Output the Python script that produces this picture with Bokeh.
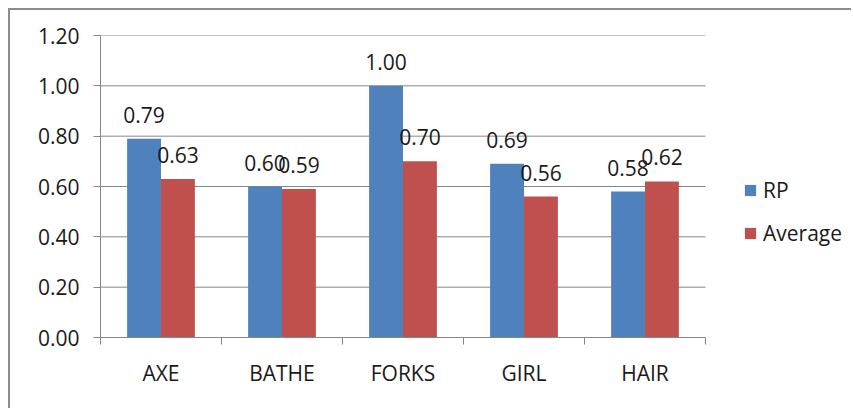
from bokeh.plotting import figure
from bokeh.models import ColumnDataSource, FixedTicker, Legend, LegendItem, Range1d
from bokeh.core.properties import value
from bokeh.embed import file_html
from bokeh.resources import INLINE

# data
words = ["AXE", "BATHE", "FORKS", "GIRL", "HAIR"]
rp = [0.79, 0.60, 1.00, 0.69, 0.58]
average = [0.63, 0.59, 0.70, 0.56, 0.62]
yticks = [0, 0.2, 0.4, 0.6, 0.8, 1.0, 1.2]

FONT = "Open Sans"
FS = "21px"
GRID = "#868686"
TXT = "#1a1a1a"

n = len(words)
centers = [i + 0.5 for i in range(n)]
bw = 0.28
# frame runs to the right edge so the legend can sit inside it (753px / 121px per category)
x_end = 753 / 121

src_rp = ColumnDataSource(dict(
    x=[c - bw / 2 for c in centers], top=rp, lab=["%.2f" % v for v in rp]))
src_av = ColumnDataSource(dict(
    x=[c + bw / 2 for c in centers], top=average, lab=["%.2f" % v for v in average]))

p = figure(width=843, height=400, output_backend="svg", toolbar_location=None,
           x_range=Range1d(0, x_end), y_range=Range1d(0, 1.2),
           min_border_left=90, min_border_right=0, min_border_top=25,
           min_border_bottom=73,
           styles={"margin-left": "8px", "margin-top": "8px",
                   "border-left": "2px solid #8c8c8c", "border-top": "2px solid #8c8c8c"})
p.outline_line_color = None
p.xgrid.grid_line_color = None
p.ygrid.grid_line_color = None

# horizontal gridlines, only across the plot area
p.segment(x0=[0] * (len(yticks) - 1), x1=[n] * (len(yticks) - 1),
          y0=yticks[1:], y1=yticks[1:], line_color=GRID, line_width=1)

r1 = p.vbar(x="x", top="top", width=bw, source=src_rp, fill_color="#4F81BD", line_color=None)
r2 = p.vbar(x="x", top="top", width=bw, source=src_av, fill_color="#C0504D", line_color=None)

for s in (src_rp, src_av):
    p.text(x="x", y="top", text="lab", source=s, text_align="center",
           text_baseline="middle", y_offset=-24, text_font=value(FONT),
           text_font_size=FS, text_color=TXT)

# y axis
p.yaxis.ticker = FixedTicker(ticks=yticks)
p.yaxis.major_label_overrides = {t: "%.2f" % t for t in yticks}
p.yaxis.major_tick_in = 0
p.yaxis.major_tick_out = 7
p.yaxis.major_tick_line_color = GRID
p.yaxis.minor_tick_line_color = None
p.yaxis.major_label_standoff = 14

# x axis: labels at centers, ticks at category boundaries
p.xaxis.ticker = FixedTicker(ticks=centers, minor_ticks=list(range(n + 1)))
p.xaxis.major_label_overrides = {c: w for c, w in zip(centers, words)}
p.xaxis.major_tick_line_color = None
p.xaxis.minor_tick_line_color = GRID
p.xaxis.minor_tick_in = 0
p.xaxis.minor_tick_out = 7
p.xaxis.major_label_standoff = 14
p.xaxis.bounds = (0, n)

for ax in (p.xaxis, p.yaxis):
    ax.axis_line_color = GRID
    ax.major_label_text_font = FONT
    ax.major_label_text_font_size = FS
    ax.major_label_text_color = TXT

legend = Legend(items=[LegendItem(label="RP", renderers=[r1]),
                       LegendItem(label="Average", renderers=[r2])],
                location=(643, 90), orientation="vertical")
legend.glyph_width = 14
legend.glyph_height = 14
legend.label_height = 20
legend.spacing = 15
legend.padding = 0
legend.margin = 0
legend.label_standoff = 6
legend.border_line_color = None
legend.background_fill_color = None
legend.label_text_font = FONT
legend.label_text_font_size = FS
legend.label_text_color = TXT
p.add_layout(legend)

open("out.html", "w").write(file_html(p, INLINE))
